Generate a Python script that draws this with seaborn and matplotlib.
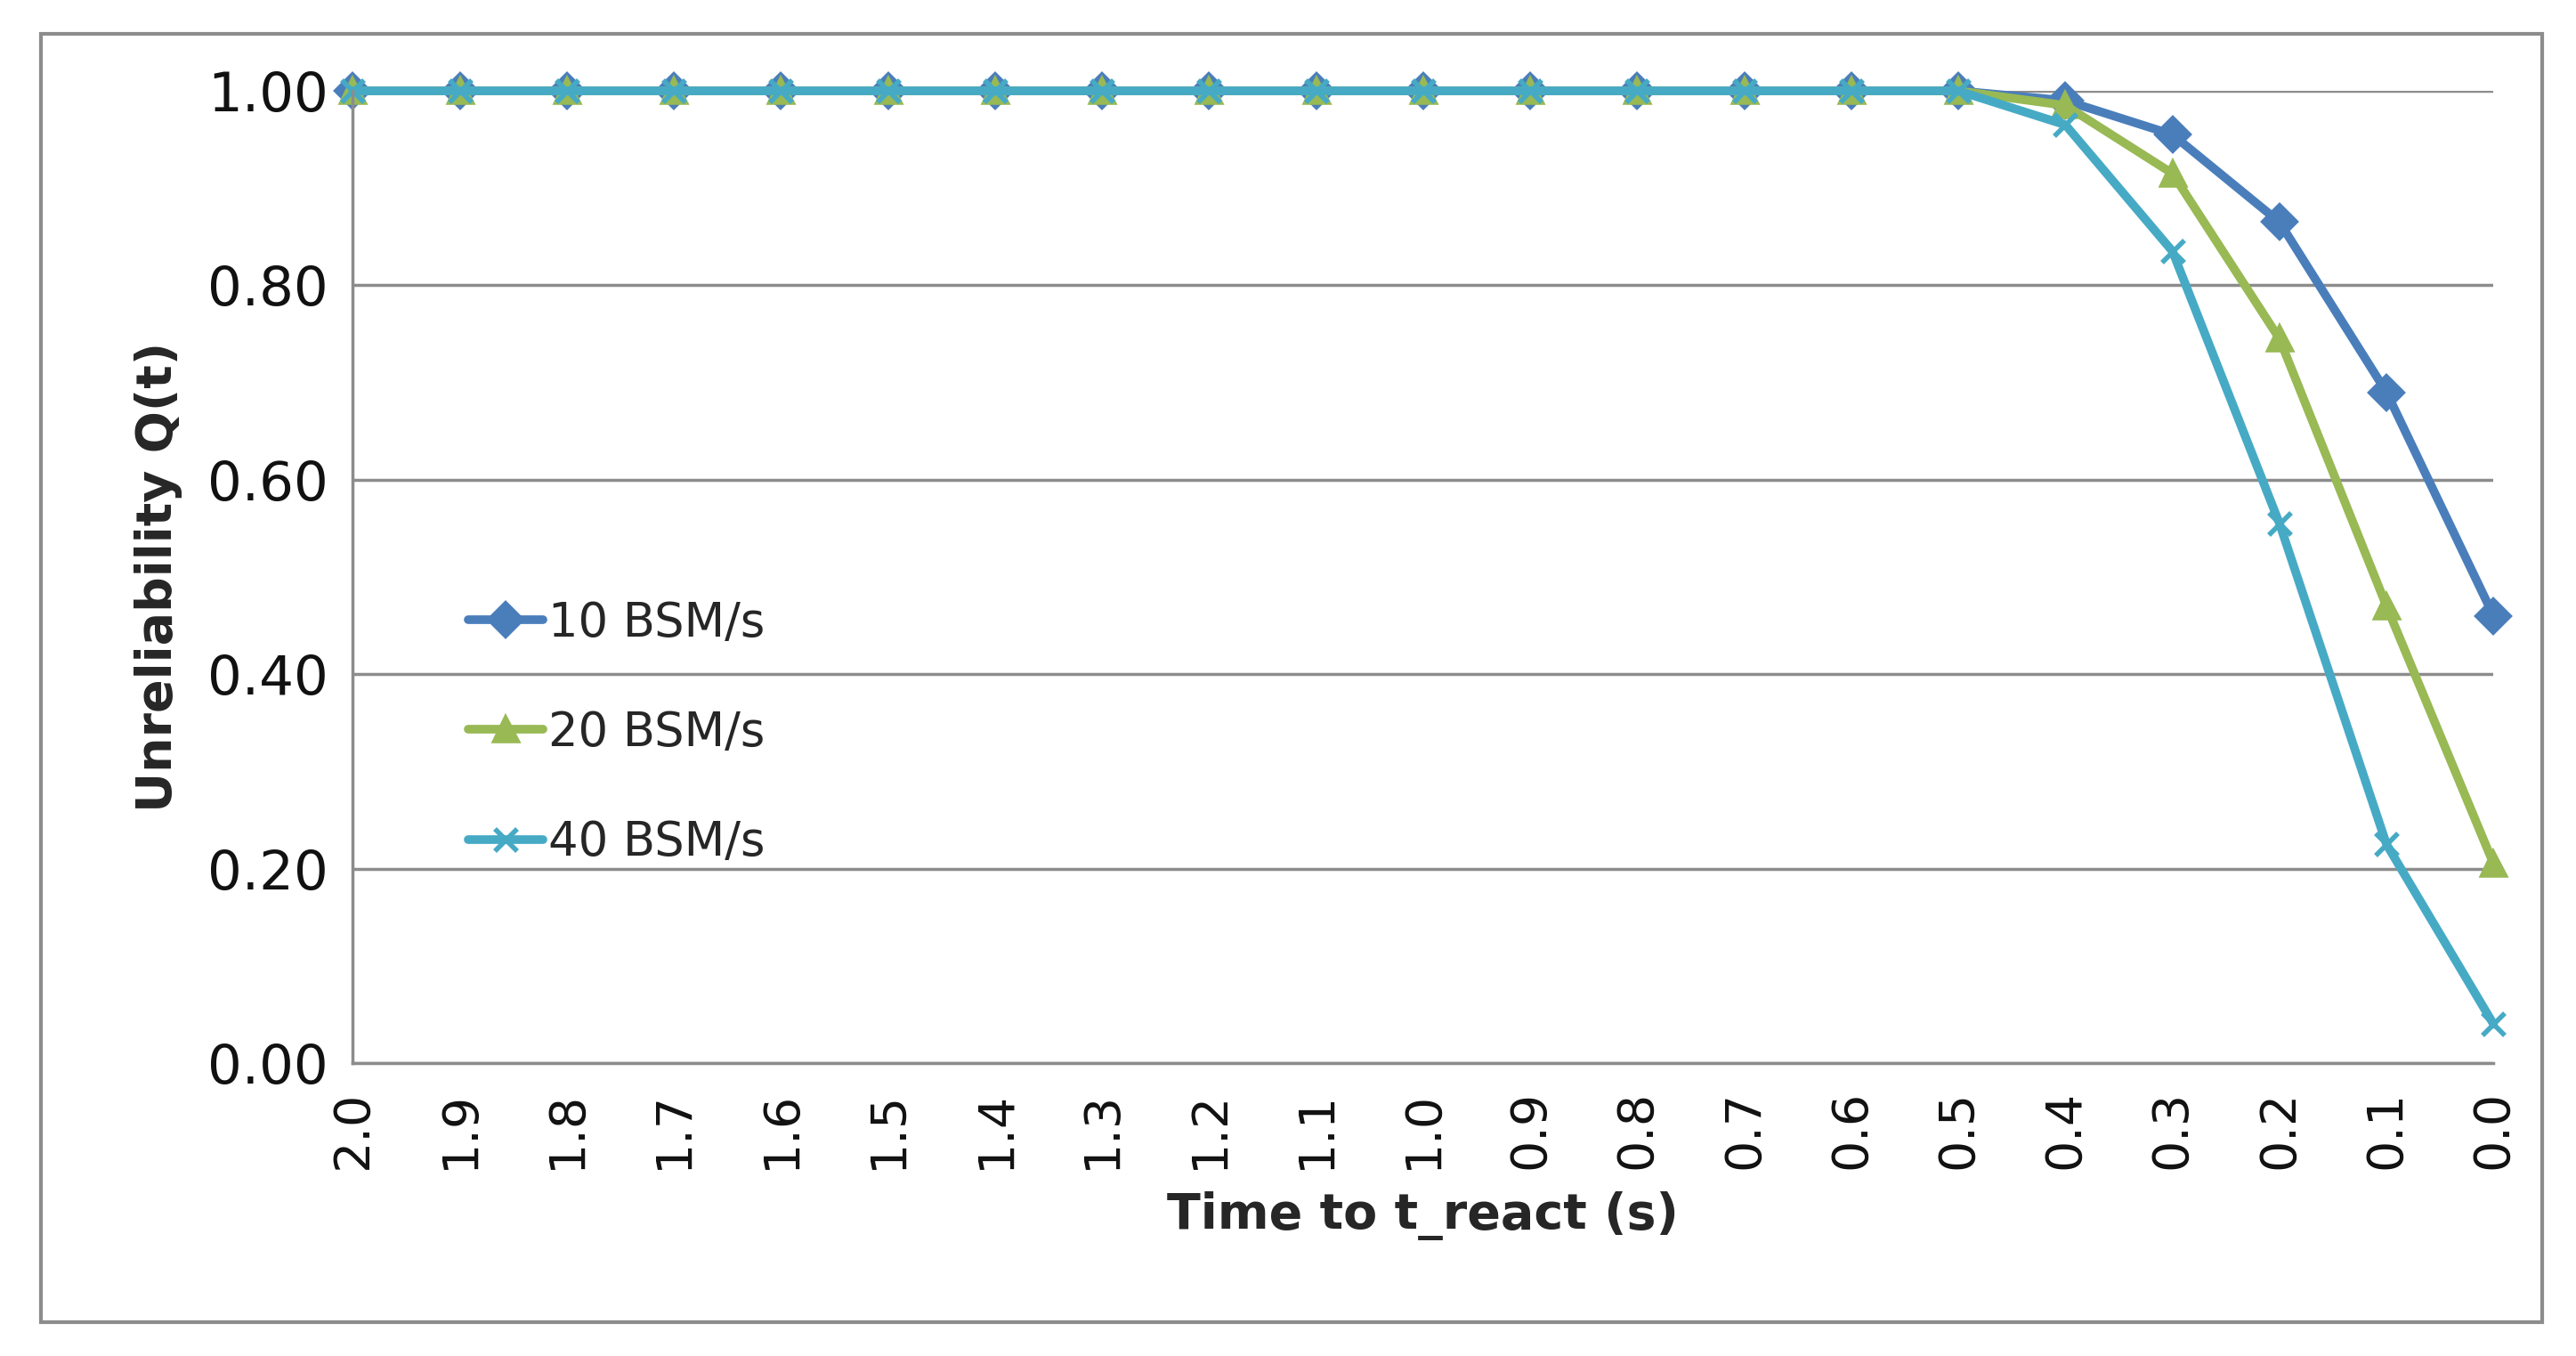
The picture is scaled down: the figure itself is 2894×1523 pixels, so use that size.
import pandas as pd
import seaborn as sns
import matplotlib.pyplot as plt
from matplotlib.patches import Rectangle

# Data
time_labels = ['2.0', '1.9', '1.8', '1.7', '1.6', '1.5', '1.4', '1.3', '1.2', '1.1', '1.0',
               '0.9', '0.8', '0.7', '0.6', '0.5', '0.4', '0.3', '0.2', '0.1', '0.0']
q_10 = [1.0] * 16 + [0.99, 0.955, 0.865, 0.69, 0.46]
q_20 = [1.0] * 16 + [0.985, 0.915, 0.745, 0.47, 0.205]
q_40 = [1.0] * 16 + [0.965, 0.835, 0.555, 0.225, 0.04]
series_names = ['10 BSM/s', '20 BSM/s', '40 BSM/s']
colors = ['#4a7ebb', '#98b954', '#46aac5']
markers = ['D', '^', 'x']

frames = []
for name, vals in zip(series_names, [q_10, q_20, q_40]):
    frames.append(pd.DataFrame({'pos': range(len(time_labels)), 'q': vals, 'rate': name}))
df = pd.concat(frames)

sns.set_style('white')
fig = plt.figure(figsize=(28.94, 15.23), dpi=100)
ax = fig.add_axes([0.137, 0.216, 0.831, 0.717])

for (name, grp), c, m in zip(df.groupby('rate', sort=False), colors, markers):
    sns.lineplot(data=grp, x='pos', y='q', ax=ax, color=c, lw=7, marker=m,
                 markersize=18, markeredgecolor=c, markeredgewidth=4, label=name, clip_on=False)

ax.set_ylim(0, 1.0)
ax.set_xlim(0, len(time_labels) - 1)
ax.set_yticks([0, 0.2, 0.4, 0.6, 0.8, 1.0])
ax.set_yticklabels([f'{v:.2f}' for v in [0, 0.2, 0.4, 0.6, 0.8, 1.0]], fontsize=44, color='#111111')
ax.set_xticks(range(len(time_labels)))
ax.set_xticklabels(time_labels, rotation=90, fontsize=40, color='#111111')
ax.yaxis.grid(True, color='#8c8c8c', lw=2.5)
ax.xaxis.grid(False)
for s in ['top', 'right']:
    ax.spines[s].set_visible(False)
ax.spines['left'].set_color('#8c8c8c')
ax.spines['bottom'].set_color('#8c8c8c')
ax.spines['left'].set_linewidth(2.5)
ax.spines['bottom'].set_linewidth(2.5)
ax.tick_params(axis='x', direction='out', length=14, width=2.5, color='#8c8c8c', pad=8)
ax.tick_params(axis='y', length=0, pad=20)
ax.set_xlabel('Time to t_react (s)', fontsize=40, fontweight='bold', labelpad=18)
ax.set_ylabel('Unreliability Q(t)', fontsize=40, fontweight='bold', labelpad=20)

ax.legend(loc='center left', bbox_to_anchor=(0.045, 0.34), frameon=False, fontsize=38,
          handlelength=1.6, handletextpad=0.1, labelspacing=1.35, borderaxespad=0.0)

fig.patches.append(Rectangle((0.016, 0.025), 0.971, 0.95, transform=fig.transFigure,
                             fill=False, edgecolor='#8c8c8c', lw=3))

fig.savefig('out.png', dpi=100)
